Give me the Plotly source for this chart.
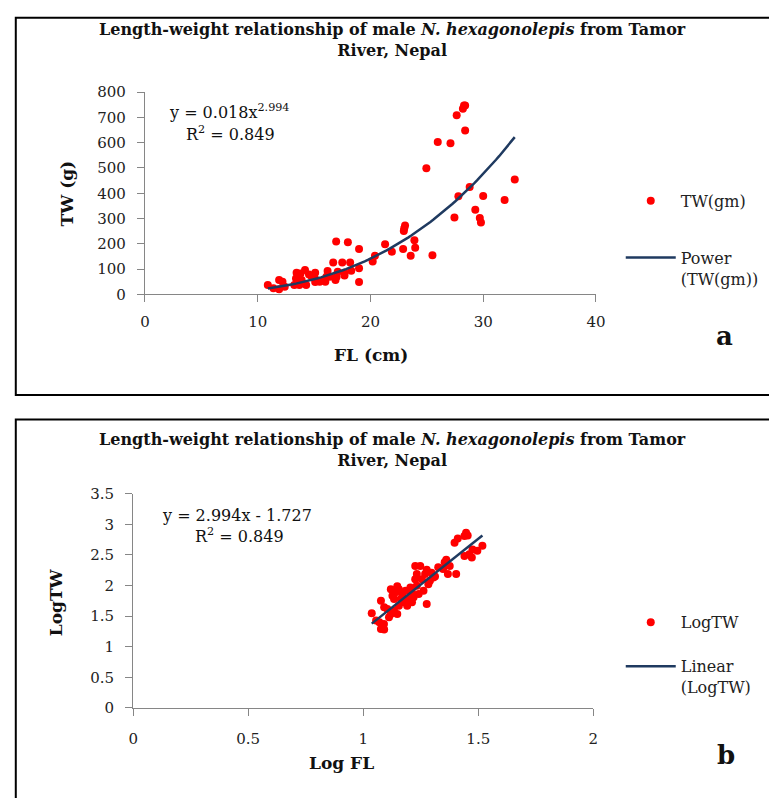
import plotly.graph_objects as go

# ---------------- data ----------------
FL = [28.3, 28.4, 28.2, 27.65, 28.4, 25.97, 27.1, 24.96, 32.8, 28.8,
      27.8, 30.0, 31.9, 29.3, 29.7, 29.8, 27.45, 23.07, 23.0, 22.96,
      23.9, 23.97, 22.9, 23.57, 25.5, 21.3, 21.9, 20.4, 20.2, 16.96,
      18.0, 18.99, 18.99, 18.99, 16.7, 17.5, 18.2, 18.3, 17.7, 17.1,
      17.7, 17.0, 16.2, 16.1, 15.9, 15.1, 15.07, 15.1, 14.8, 14.55,
      14.2, 13.8, 13.45, 13.4, 13.9, 13.7, 14.3, 13.25, 11.9, 12.2,
      12.4, 11.9, 10.9, 11.4, 15.5, 16.0, 16.4, 16.9]
TW = [747, 747, 734, 708, 648, 603, 598, 499, 454, 425,
      388, 389, 373, 335, 302, 284, 304, 272, 262, 251,
      214, 184, 180, 153, 155, 198, 169, 153, 130, 209,
      206, 180, 103, 49, 126, 126, 126, 94, 86, 90,
      75, 70, 93, 70, 57, 86, 63, 49, 70, 79,
      97, 83, 86, 63, 57, 37, 37, 37, 57, 50,
      30, 20, 37, 24, 50, 50, 70, 57]

LOG_FL = [1.447, 1.440, 1.454, 1.411, 1.397, 1.518, 1.496, 1.475, 1.461, 1.440,
          1.472, 1.361, 1.354, 1.376, 1.347, 1.368, 1.404, 1.326, 1.226, 1.248,
          1.276, 1.305, 1.290, 1.283, 1.255, 1.226, 1.233, 1.205, 1.262, 1.241,
          1.219, 1.198, 1.276, 1.177, 1.155, 1.141, 1.120, 1.148, 1.170, 1.134,
          1.105, 1.134, 1.148, 1.120, 1.091, 1.077, 1.112, 1.037, 1.070, 1.090,
          1.077, 1.091, 1.056, 1.212, 1.184, 1.233, 1.269, 1.297, 1.312, 1.163,
          1.191, 1.212, 1.127, 1.155]
LOG_TW = [2.865, 2.810, 2.820, 2.770, 2.700, 2.650, 2.570, 2.590, 2.510, 2.485,
          2.460, 2.420, 2.380, 2.320, 2.270, 2.190, 2.190, 2.300, 2.320, 2.320,
          2.260, 2.130, 2.080, 2.020, 2.105, 2.105, 1.997, 1.970, 1.915, 1.860,
          1.810, 1.780, 1.700, 1.725, 1.670, 1.890, 1.940, 1.990, 1.860, 1.780,
          1.617, 1.590, 1.535, 1.535, 1.644, 1.750, 1.480, 1.546, 1.400, 1.373,
          1.290, 1.280, 1.427, 1.888, 1.915, 2.187, 2.187, 2.210, 2.150, 1.780,
          1.670, 1.725, 1.834, 1.940]

# fitted trend lines shown in the chart
POWER_A, POWER_B = 0.018, 2.994
LIN_M, LIN_C = 2.994, -1.727

X_TICKS_A = [0, 10, 20, 30, 40]
Y_TICKS_A = [0, 100, 200, 300, 400, 500, 600, 700, 800]
X_TICKS_B = [0, 0.5, 1, 1.5, 2]
X_LABELS_B = ["0", "0.5", "1", "1.5", "2"]
Y_TICKS_B = [0, 0.5, 1, 1.5, 2, 2.5, 3, 3.5]
Y_LABELS_B = ["0", "0.5", "1", "1.5", "2", "2.5", "3", "3.5"]

TITLE = ("<b>Length-weight relationship of male <i>N. hexagonolepis</i> from Tamor"
         "<br>River, Nepal</b>")

# ---------------- layout helpers ----------------
W, H = 769, 798
def px(x):
    return x / W
def py(y):
    return 1 - y / H

SERIF = "DejaVu Serif"
AX = "#868686"
RED = "#FF0000"
NAVY = "#1F3A60"

n = 80
fmin, fmax = min(FL), max(FL)
fit_x = [fmin + (fmax - fmin) * i / (n - 1) for i in range(n)]
fit_y = [POWER_A * v ** POWER_B for v in fit_x]
lmin, lmax = min(LOG_FL), max(LOG_FL)
lin_x = [lmin, lmax]
lin_y = [LIN_M * v + LIN_C for v in lin_x]

fig = go.Figure()
fig.add_trace(go.Scatter(x=FL, y=TW, mode="markers", name="TW(gm)",
                         marker=dict(color=RED, size=8, line=dict(width=0)),
                         xaxis="x", yaxis="y", legend="legend"))
fig.add_trace(go.Scatter(x=fit_x, y=fit_y, mode="lines", name="Power<br>(TW(gm))",
                         line=dict(color=NAVY, width=2.5),
                         xaxis="x", yaxis="y", legend="legend2"))
fig.add_trace(go.Scatter(x=LOG_FL, y=LOG_TW, mode="markers", name="LogTW",
                         marker=dict(color=RED, size=8, line=dict(width=0)),
                         xaxis="x2", yaxis="y2", legend="legend3"))
fig.add_trace(go.Scatter(x=lin_x, y=lin_y, mode="lines", name="Linear<br>(LogTW)",
                         line=dict(color=NAVY, width=2.5),
                         xaxis="x2", yaxis="y2", legend="legend4"))

tickfont = dict(family=SERIF, size=15, color="#222222")
common = dict(showline=True, linecolor=AX, linewidth=1, ticks="outside",
              ticklen=7, tickcolor=AX, tickwidth=1, showgrid=False,
              zeroline=False, tickfont=tickfont, fixedrange=True)

leg_common = dict(xanchor="left", bgcolor="rgba(0,0,0,0)", borderwidth=0,
                  font=dict(family=SERIF, size=16, color="#222222"),
                  itemwidth=50, valign="top")

fig.update_layout(
    width=W, height=H, margin=dict(l=0, r=0, t=0, b=0),
    paper_bgcolor="white", plot_bgcolor="white", showlegend=True,
    xaxis=dict(domain=[px(142.7), px(602.7)], range=[0, 40], tickvals=X_TICKS_A,
               anchor="y", ticklabelstandoff=7, **common),
    yaxis=dict(domain=[py(292), py(85)], range=[0, 800], tickvals=Y_TICKS_A,
               anchor="x", ticklabelstandoff=8, **common),
    xaxis2=dict(domain=[px(130.7), px(600)], range=[0, 2], tickvals=X_TICKS_B,
                ticktext=X_LABELS_B, anchor="y2", ticklabelstandoff=10, **common),
    yaxis2=dict(domain=[py(715), py(496)], range=[0, 3.5], tickvals=Y_TICKS_B,
                ticktext=Y_LABELS_B, anchor="x2", ticklabelstandoff=8, **common),
    legend=dict(x=px(628), y=py(179), yanchor="top", **leg_common),
    legend2=dict(x=px(628), y=py(237), yanchor="top", **leg_common),
    legend3=dict(x=px(628), y=py(610), yanchor="top", **leg_common),
    legend4=dict(x=px(628), y=py(655), yanchor="top", **leg_common),
)

shapes = [
    dict(type="rect", xref="paper", yref="paper", x0=px(11), x1=px(790),
         y0=py(395), y1=py(9), line=dict(color="black", width=2)),
    dict(type="rect", xref="paper", yref="paper", x0=px(11), x1=px(790),
         y0=py(820), y1=py(420), line=dict(color="black", width=2)),
]
fig.update_layout(shapes=shapes)

def ann(text, x, y, size, bold=False, angle=0, xanchor="center"):
    return dict(text=f"<b>{text}</b>" if bold else text, x=px(x), y=py(y),
                xref="paper", yref="paper", showarrow=False, textangle=angle,
                xanchor=xanchor, yanchor="middle",
                font=dict(family=SERIF, size=size, color="#111111"))

annotations = [
    dict(text=TITLE, x=px(395), y=py(32), xref="paper", yref="paper",
         showarrow=False, xanchor="center", yanchor="middle",
         font=dict(family=SERIF, size=16, color="#111111")),
    dict(text=TITLE, x=px(395), y=py(451), xref="paper", yref="paper",
         showarrow=False, xanchor="center", yanchor="middle",
         font=dict(family=SERIF, size=16, color="#111111")),
    ann("TW (g)", 63, 189, 17, bold=True, angle=-90),
    ann("FL (cm)", 373, 354, 17, bold=True),
    ann("a", 734, 335, 26, bold=True),
    ann("LogTW", 52, 607, 17, bold=True, angle=-90),
    ann("Log FL", 343, 771, 17, bold=True),
    ann("b", 735, 763, 26, bold=True),
    ann(f"y = {POWER_A}x<sup>{POWER_B}</sup>", 165, 105, 16, xanchor="left"),
    ann("R<sup>2</sup> = 0.849", 183, 127, 16, xanchor="left"),
    ann(f"y = {LIN_M}x - {abs(LIN_C)}", 158, 518, 16, xanchor="left"),
    ann("R<sup>2</sup> = 0.849", 192, 539, 16, xanchor="left"),
]
fig.update_layout(annotations=annotations)

fig.write_html("out.html")
